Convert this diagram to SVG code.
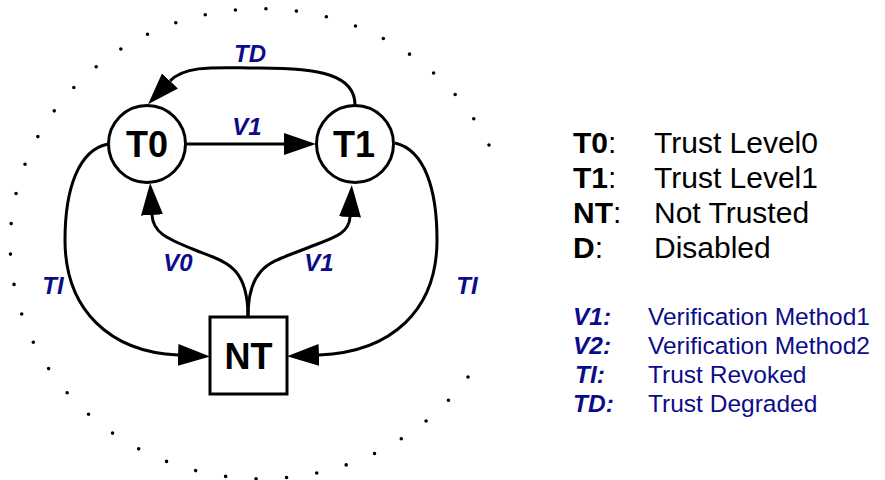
<svg xmlns="http://www.w3.org/2000/svg" width="885" height="480" viewBox="0 0 885 480">
<style>
.node{fill:#fff;stroke:#000;stroke-width:3}
.lbl{font-family:"Liberation Sans",Arial,sans-serif;font-weight:bold;fill:#000;text-anchor:middle}
.edge{fill:none;stroke:#000;stroke-width:3}
.el{font-family:"Liberation Sans",Arial,sans-serif;font-weight:bold;font-style:italic;fill:#0c0c8a;font-size:24px;text-anchor:middle}
.lk{font-family:"Liberation Sans",Arial,sans-serif;font-size:30px;fill:#000}
.lb{font-family:"Liberation Sans",Arial,sans-serif;font-size:24.5px;fill:#0c0c8a}
.dots{fill:none;stroke:#000;stroke-width:3.6;stroke-linecap:round;stroke-dasharray:0 1}
</style>
<defs>
<marker id="ah" markerUnits="userSpaceOnUse" viewBox="0 -11 32 22" refX="0" refY="0" markerWidth="32" markerHeight="22" orient="auto">
<path d="M0,-11 L32,0 L0,11 z" fill="#000"/>
</marker>
</defs>
<path class="dots" pathLength="42" d="M489,145 A251,235 0 1 0 468,377"/>
<g id="connectors">
<path class="edge" marker-end="url(#ah)" d="M186,144 L284,144"/>
<path class="edge" marker-end="url(#ah)" d="M355,105 C355,75 320,68 260,68 C220,68 186,64 170,81"/>
<path class="edge" marker-end="url(#ah)" d="M248,317 C248,265 225,262 195,250 C165,238 153,232 152,215"/>
<path class="edge" marker-end="url(#ah)" d="M248,317 C248,265 272,262 302,250 C332,238 349,235 350,217"/>
<path class="edge" marker-end="url(#ah)" d="M108,144 C78,150 65,190 65,240 C65,310 110,352 178,355"/>
<path class="edge" marker-end="url(#ah)" d="M395,143 C425,150 437,190 437,240 C437,310 392,352 319,355"/>
<text class="el" x="250" y="62">TD</text>
<text class="el" x="247" y="135">V1</text>
<text class="el" x="178" y="271">V0</text>
<text class="el" x="319" y="271">V1</text>
<text class="el" x="53" y="294">TI</text>
<text class="el" x="467" y="294">TI</text>
</g>
<g id="T0">
<circle class="node" cx="147" cy="144" r="38.5"/>
<text class="lbl" x="147" y="157" font-size="36">T0</text>
</g>
<g id="T1">
<circle class="node" cx="355" cy="144" r="38.5"/>
<text class="lbl" x="354" y="157" font-size="36">T1</text>
</g>
<g id="NT">
<rect class="node" x="210" y="317" width="77" height="77"/>
<text class="lbl" x="248.5" y="369" font-size="36">NT</text>
</g>
<g id="legend">
<text class="lk" x="573" y="153"><tspan font-weight="bold">T0</tspan>:</text>
<text class="lk" x="654" y="153">Trust Level0</text>
<text class="lk" x="573" y="188"><tspan font-weight="bold">T1</tspan>:</text>
<text class="lk" x="654" y="188">Trust Level1</text>
<text class="lk" x="573" y="223"><tspan font-weight="bold">NT</tspan>:</text>
<text class="lk" x="654" y="223">Not Trusted</text>
<text class="lk" x="573" y="258"><tspan font-weight="bold">D</tspan>:</text>
<text class="lk" x="654" y="258">Disabled</text>
<text class="lb" x="573" y="325" font-weight="bold" font-style="italic">V1:</text>
<text class="lb" x="648" y="325">Verification Method1</text>
<text class="lb" x="573" y="354" font-weight="bold" font-style="italic">V2:</text>
<text class="lb" x="648" y="354">Verification Method2</text>
<text class="lb" x="575" y="383" font-weight="bold" font-style="italic">TI:</text>
<text class="lb" x="648" y="383">Trust Revoked</text>
<text class="lb" x="573" y="412" font-weight="bold" font-style="italic">TD:</text>
<text class="lb" x="648" y="412">Trust Degraded</text>
</g>
</svg>
